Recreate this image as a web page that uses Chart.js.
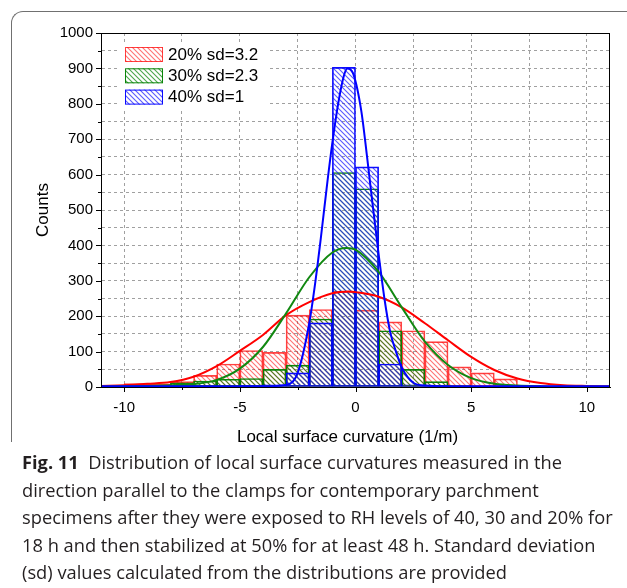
<!DOCTYPE html>
<html><head><meta charset="utf-8">
<script src="https://cdn.jsdelivr.net/npm/chart.js@4.4.0/dist/chart.umd.min.js"></script>
<style>
html,body{margin:0;padding:0;background:#fff;width:627px;height:588px;overflow:hidden;}
#frame{position:absolute;left:11px;top:11px;width:660px;height:430px;border-top:1px solid #707070;border-left:1px solid #707070;border-top-left-radius:12px;}
#wrap{position:absolute;left:0;top:0;width:627px;height:450px;}
#cap{position:absolute;left:22px;top:448px;font-family:'Open Sans',sans-serif;font-size:18px;line-height:27.5px;color:#231f20;white-space:nowrap;}
#cap b{font-weight:700}
</style></head>
<body>
<div id="frame"></div>
<div id="wrap"><canvas id="c" width="627" height="450"></canvas></div>
<div id="cap">
<div><b>Fig. 11</b>&nbsp;&nbsp;Distribution of local surface curvatures measured in the</div>
<div>direction parallel to the clamps for contemporary parchment</div>
<div id="l3">specimens after they were exposed to RH levels of 40, 30 and 20% for</div>
<div>18 h and then stabilized at 50% for at least 48 h. Standard deviation</div>
<div>(sd) values calculated from the distributions are provided</div>
</div>
<script>
// ---- data ----
const binCenters = [-10.5,-9.5,-8.5,-7.5,-6.5,-5.5,-4.5,-3.5,-2.5,-1.5,-0.5,0.5,1.5,2.5,3.5,4.5,5.5,6.5,7.5,8.5,9.5,10.5];
const counts20 = [3,10,8,15,33,65,103,98,203,219,270,217,184,159,128,57,40,23,5,2,0,0];
const counts30 = [2,3,5,12,17,22,24,50,62,192,606,560,159,50,15,5,2,0,0,0,0,0];
const counts40 = [0,0,0,0,0,0,5,6,40,181,903,622,65,6,4,2,0,0,0,0,0,0];

const fitX20 = [-11,-10,-9,-8,-7,-6,-5,-4,-3,-2,-1,-0.3,0,1,2,3,4,5,6,7,8,9,10,11];
const fit20  = [3,5,9,14,29,59,102,147,203,240,265,270,268,255,225,180,132,85,48,24,11,5,3,2];
const fitX30 = [-11,-10,-9,-8,-7,-6,-5,-4,-3,-2,-1,-0.4,0,1,2,3,4,5,6,7,8,9,10,11];
const fit30  = [1,2,3,5,8,20,52,113,208,310,380,393,388,325,225,128,62,25,9,4,2,1,1,1];
const fitX40 = [-11,-5,-4,-3,-2.5,-2,-1.75,-1.5,-1.25,-1,-0.75,-0.5,-0.35,-0.1,0.25,0.5,0.75,1,1.25,1.5,1.75,2,2.5,3,4,11];
const fit40  = [2,2,2,6,40,180,290,420,560,690,800,880,900,885,780,650,510,375,250,155,100,55,12,4,2,2];

const labels = ['20% sd=3.2','30% sd=2.3','40% sd=1'];
const xTicks = [-10,-5,0,5,10];
const yTicks = [0,100,200,300,400,500,600,700,800,900,1000];
const xTitle = 'Local surface curvature (1/m)';

// ---- caption fit ----
(function(){
  const cap=document.getElementById('cap');
  const l3=document.getElementById('l3');
  const w=l3.getBoundingClientRect().width;
  cap.style.fontSize=(18*591/w)+'px';
})();

const canvas=document.getElementById('c');
const mctx=canvas.getContext('2d');
function hatch(color){
  const s=5, t=document.createElement('canvas'); t.width=s; t.height=s;
  const g=t.getContext('2d'); g.strokeStyle=color; g.lineWidth=1.1;
  g.beginPath();
  g.moveTo(-1,-1); g.lineTo(s+1,s+1);
  g.moveTo(-1,s-1); g.lineTo(1,s+1);
  g.moveTo(s-1,-1); g.lineTo(s+1,1);
  g.stroke();
  return mctx.createPattern(t,'repeat');
}
const pts=(xs,ys)=>xs.map((x,i)=>({x:x,y:ys[i]}));

Chart.defaults.font.family='"Liberation Sans", Arial, sans-serif';
Chart.defaults.color='#000';

const frameAndTicks={
  id:'frameAndTicks',
  afterDraw(chart){
    const ctx=chart.ctx, a=chart.chartArea;
    const xs=chart.scales.x, ys=chart.scales.y;
    ctx.save();
    ctx.strokeStyle='#000'; ctx.lineWidth=1;
    ctx.strokeRect(Math.round(a.left)+0.5,Math.round(a.top)+0.5,Math.round(a.right-a.left)-1,Math.round(a.bottom-a.top));
    ctx.beginPath();
    xs.ticks.forEach(t=>{
      const px=Math.round(xs.getPixelForValue(t.value))+0.5;
      const len = xTicks.includes(t.value)?5:3;
      ctx.moveTo(px,a.bottom); ctx.lineTo(px,a.bottom+len);
    });
    ys.ticks.forEach(t=>{
      const py=Math.round(ys.getPixelForValue(t.value))+0.5;
      const len = yTicks.includes(t.value)?5:3;
      ctx.moveTo(a.left,py); ctx.lineTo(a.left-len,py);
    });
    ctx.stroke();
    // x axis title (slightly left of centre as in the original)
    ctx.fillStyle='#000'; ctx.font='17px "Liberation Sans", Arial'; ctx.textAlign='center'; ctx.textBaseline='middle';
    ctx.fillText(xTitle,(a.left+a.right)/2-8,a.bottom+50);
    // legend
    const bars=chart.data.datasets.filter(d=>d.type==='bar');
    const lx=a.left+16, ly=a.top+9;
    ctx.fillStyle='#fff'; ctx.fillRect(lx,ly,151,66);
    bars.forEach((d,i)=>{
      const y=ly+5+i*21.3;
      ctx.fillStyle=d.backgroundColor; ctx.fillRect(lx+8,y,38,15);
      ctx.strokeStyle=d.borderColor; ctx.lineWidth=1; ctx.strokeRect(lx+8.5,y+0.5,37,14);
      ctx.fillStyle='#000'; ctx.font='17px "Liberation Sans", Arial'; ctx.textBaseline='middle'; ctx.textAlign='left';
      ctx.fillText(d.label,lx+51,y+8);
    });
    ctx.restore();
  }
};

new Chart(canvas,{
  data:{
    datasets:[
      {type:'bar',label:labels[0],data:pts(binCenters,counts20),backgroundColor:hatch('rgba(255,0,0,0.55)'),borderColor:'rgba(255,20,20,0.8)',borderWidth:1,borderSkipped:false,order:6,barPercentage:1,categoryPercentage:1,grouped:false},
      {type:'bar',label:labels[1],data:pts(binCenters,counts30),backgroundColor:hatch('rgba(0,130,0,0.7)'),borderColor:'rgba(0,128,0,0.95)',borderWidth:1,borderSkipped:false,order:5,barPercentage:1,categoryPercentage:1,grouped:false},
      {type:'bar',label:labels[2],data:pts(binCenters,counts40),backgroundColor:hatch('rgba(20,20,255,0.7)'),borderColor:'rgba(0,0,255,0.95)',borderWidth:1,borderSkipped:false,order:4,barPercentage:1,categoryPercentage:1,grouped:false},
      {type:'line',label:'fit20',data:pts(fitX20,fit20),borderColor:'#ff0000',borderWidth:2,pointRadius:0,cubicInterpolationMode:'monotone',fill:false,order:3},
      {type:'line',label:'fit30',data:pts(fitX30,fit30),borderColor:'#118811',borderWidth:2,pointRadius:0,cubicInterpolationMode:'monotone',fill:false,order:2},
      {type:'line',label:'fit40',data:pts(fitX40,fit40),borderColor:'#0000ff',borderWidth:2,pointRadius:0,cubicInterpolationMode:'monotone',fill:false,order:1}
    ]
  },
  options:{
    responsive:false,animation:false,devicePixelRatio:1,
    layout:{padding:{top:33,right:17,bottom:0,left:0}},
    plugins:{legend:{display:false},tooltip:{enabled:false}},
    scales:{
      x:{type:'linear',min:-11,max:11,offset:false,
        grid:{offset:false,color:'#a0a0a0',drawTicks:false,lineWidth:1},
        border:{display:true,color:'#000',dash:[3,3]},
        ticks:{stepSize:2.5,includeBounds:false,autoSkip:false,maxRotation:0,padding:12,font:{size:15},
          callback:v=>xTicks.includes(v)?String(v):''},
        title:{display:false},
        afterFit:s=>{s.height=63;}
      },
      y:{type:'linear',min:0,max:1000,
        grid:{color:'#a0a0a0',drawTicks:false,lineWidth:1},
        border:{display:true,color:'#000',dash:[3,3]},
        ticks:{stepSize:50,includeBounds:false,autoSkip:false,padding:8,font:{size:15},
          callback:v=>yTicks.includes(v)?String(v):''},
        title:{display:true,text:'Counts',font:{size:17},padding:{top:33,bottom:0}},
        afterFit:s=>{s.width=101;}
      }
    }
  },
  plugins:[frameAndTicks]
});
</script>
</body></html>
